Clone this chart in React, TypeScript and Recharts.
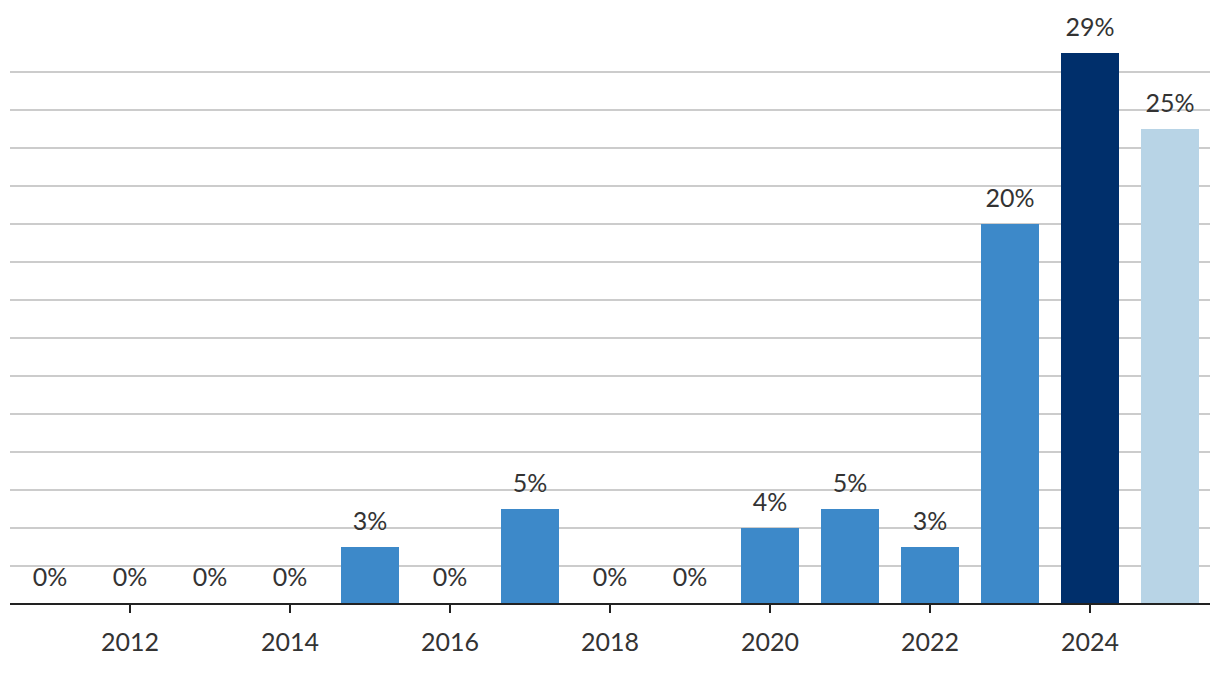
import { BarChart, Bar, XAxis, YAxis, CartesianGrid, LabelList, Cell } from 'recharts'

const years = ['2011', '2012', '2013', '2014', '2015', '2016', '2017', '2018', '2019', '2020', '2021', '2022', '2023', '2024', '2025']
const shares = [0, 0, 0, 0, 3, 0, 5, 0, 0, 4, 5, 3, 20, 29, 25]
const barColors = ['#3d89c9', '#3d89c9', '#3d89c9', '#3d89c9', '#3d89c9', '#3d89c9', '#3d89c9', '#3d89c9', '#3d89c9', '#3d89c9', '#3d89c9', '#3d89c9', '#3d89c9', '#002f6b', '#b8d4e6']
const yTicks = [0, 2, 4, 6, 8, 10, 12, 14, 16, 18, 20, 22, 24, 26, 28]
const labeledYears = ['2012', '2014', '2016', '2018', '2020', '2022', '2024']

const data = years.map((year, i) => ({ year, value: shares[i] }))

const FONT = 'Lato, "Open Sans", sans-serif'

function YearTick(props: any) {
  const { x, y, payload } = props
  if (!labeledYears.includes(payload.value)) return null
  return (
    <g>
      <line x1={x} x2={x} y1={y} y2={y + 9} stroke="#222" strokeWidth={2} />
      <text x={x} y={y + 47} textAnchor="middle" fill="#333" fontSize={25} fontFamily={FONT}>
        {payload.value}
      </text>
    </g>
  )
}

export default function App() {
  return (
    <div style={{ position: 'absolute', left: 0, top: 0, width: 1220, height: 678, background: '#fff' }}>
      <BarChart width={1220} height={678} data={data} margin={{ top: 34, right: 10, left: 10, bottom: 0 }}>
        <XAxis
          dataKey="year"
          height={74}
          interval={0}
          tickLine={false}
          tickSize={0}
          tickMargin={0}
          axisLine={{ stroke: '#222', strokeWidth: 2 }}
          tick={<YearTick />}
        />
        <YAxis hide domain={[0, 30]} ticks={yTicks} />
        <Bar dataKey="value" barSize={58} minPointSize={1} isAnimationActive={false}>
          {data.map((d, i) => (
            <Cell key={d.year} fill={d.value === 0 ? 'transparent' : barColors[i]} />
          ))}
          <LabelList
            dataKey="value"
            position="top"
            offset={17}
            formatter={(v: any) => `${v}%`}
            fill="#333"
            fontSize={25}
            fontFamily={FONT}
          />
        </Bar>
        <CartesianGrid vertical={false} horizontalValues={yTicks} stroke="rgba(0,0,0,0.2)" strokeWidth={2} />
      </BarChart>
    </div>
  )
}
